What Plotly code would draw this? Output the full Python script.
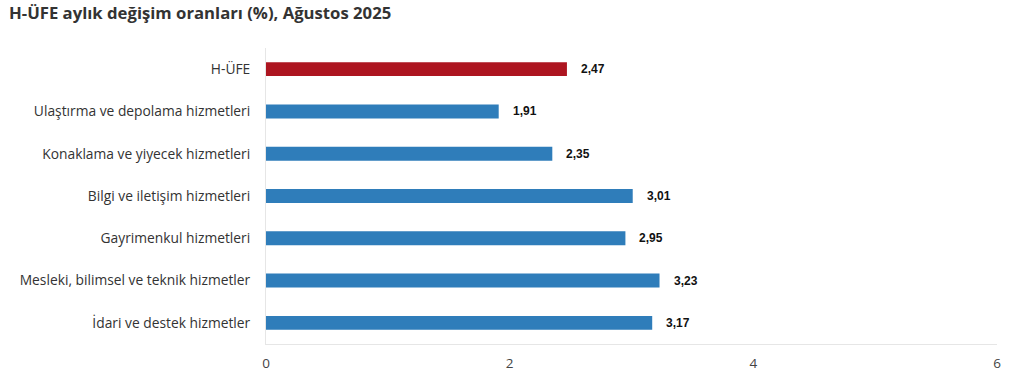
import plotly.graph_objects as go

categories = [
    "H-ÜFE",
    "Ulaştırma ve depolama hizmetleri",
    "Konaklama ve yiyecek hizmetleri",
    "Bilgi ve iletişim hizmetleri",
    "Gayrimenkul hizmetleri",
    "Mesleki, bilimsel ve teknik hizmetler",
    "İdari ve destek hizmetler",
]
values = [2.47, 1.91, 2.35, 3.01, 2.95, 3.23, 3.17]
bar_colors = ["#AD1520"] + ["#2F7DBA"] * 6
x_ticks = [0, 2, 4, 6]

fig = go.Figure()
fig.add_trace(go.Bar(
    x=values, y=categories, orientation="h",
    marker=dict(color=bar_colors, line=dict(width=0)),
    width=0.33, hoverinfo="skip",
))

for c, v in zip(categories, values):
    fig.add_annotation(
        x=v, y=c, text=f"<b>{v:.2f}</b>".replace(".", ","),
        xanchor="left", yanchor="middle", xshift=12, showarrow=False,
        font=dict(family="Liberation Sans, Arial", size=12, color="#111111"),
    )

fig.update_layout(
    width=1024, height=382,
    margin=dict(l=266, r=27, t=48, b=38, autoexpand=False),
    paper_bgcolor="white", plot_bgcolor="white",
    showlegend=False,
    title=dict(
        text="<b>H-ÜFE aylık değişim oranları (%), Ağustos 2025</b>",
        x=0, xref="container", xanchor="left",
        y=0.965, yanchor="middle", pad=dict(l=9),
        automargin=False,
        font=dict(family="Open Sans, Noto Sans, sans-serif", size=16.7, color="#333333"),
    ),
    xaxis=dict(
        range=[0, 6], tickvals=x_ticks, ticktext=[str(t) for t in x_ticks],
        showgrid=False, zeroline=False, showline=True, linecolor="#e6e6e6", linewidth=1,
        ticks="outside", ticklen=7, tickcolor="rgba(0,0,0,0)",
        tickfont=dict(family="Open Sans, sans-serif", size=13.5, color="#444444"),
        fixedrange=True, automargin=False,
    ),
    yaxis=dict(
        autorange="reversed", showgrid=False, zeroline=False,
        showline=True, linecolor="#e6e6e6", linewidth=1,
        ticks="outside", ticklen=12, tickcolor="rgba(0,0,0,0)",
        tickfont=dict(family="Open Sans, sans-serif", size=13.8, color="#333333"),
        fixedrange=True, automargin=False,
    ),
)

fig.write_html(
    "out.html",
    config={"displayModeBar": False},
    post_script="document.body.style.margin='0';",
)
